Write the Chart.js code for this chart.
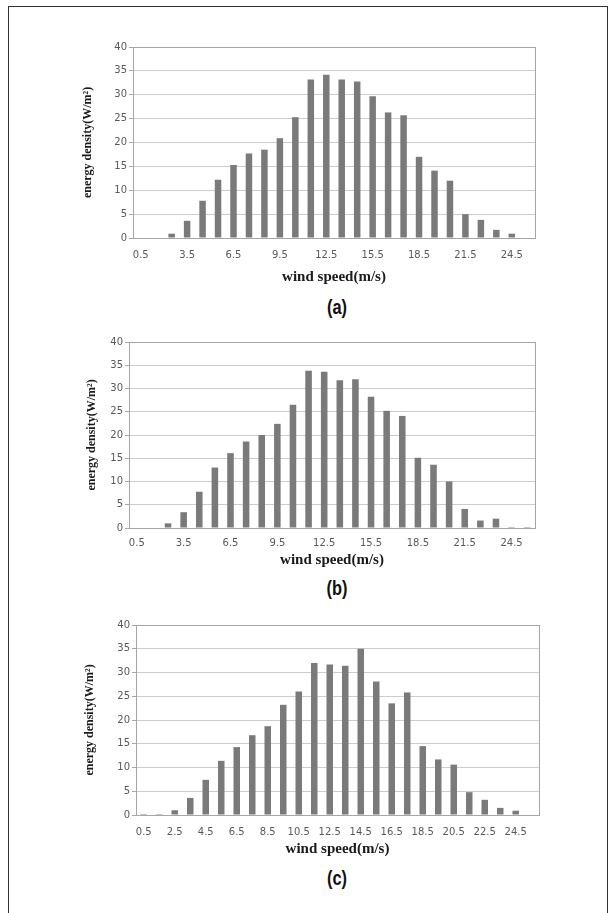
<!DOCTYPE html>
<html>
<head>
<meta charset="utf-8">
<script src="https://cdn.jsdelivr.net/npm/chart.js@4/dist/chart.umd.min.js"></script>
<style>
  body { margin: 0; background: #fff; width: 616px; height: 913px; overflow: hidden; position: relative; }
  #frame { position: absolute; left: 8px; top: 6px; width: 598px; height: 950px; border: 1px solid #333; }
  canvas { position: absolute; left: 0; }
  .cap { position: absolute; width: 100px; height: 24px; line-height: 24px; text-align: center;
         font-family: 'Liberation Sans', Arial, sans-serif; transform: scaleX(0.78);
         font-weight: bold; font-size: 21px; color: #111; }
</style>
</head>
<body>
<div id="frame"></div>
<canvas id="chartA"></canvas>
<canvas id="chartB"></canvas>
<canvas id="chartC"></canvas>
<div class="cap" style="left:287px; top:295px;">(a)</div>
<div class="cap" style="left:287px; top:576px;">(b)</div>
<div class="cap" style="left:287px; top:866px;">(c)</div>

<script>
// wind speed classes (m/s)
var speeds = ['0.5','1.5','2.5','3.5','4.5','5.5','6.5','7.5','8.5','9.5','10.5','11.5','12.5',
              '13.5','14.5','15.5','16.5','17.5','18.5','19.5','20.5','21.5','22.5','23.5','24.5','25.5'];

// energy density (W/m2) per class
var densityA = [0,0,0.9,3.6,7.8,12.2,15.3,17.7,18.5,20.9,25.3,33.2,34.2,33.2,32.8,29.7,26.3,25.7,17.0,14.1,12.0,5.0,3.8,1.7,0.9,0];
var densityB = [0,0,1.0,3.4,7.8,13.0,16.1,18.6,20.0,22.4,26.5,33.8,33.6,31.8,32.0,28.2,25.2,24.1,15.1,13.6,10.0,4.1,1.6,2.0,0.2,0.2];
var densityC = [0.2,0.2,1.0,3.6,7.4,11.4,14.3,16.8,18.7,23.2,26.0,32.0,31.7,31.4,35.0,28.1,23.5,25.8,14.5,11.7,10.6,4.8,3.2,1.5,0.9,0];

var yMin = 0, yMax = 40, yStep = 5;

var plotBorder = {
  id: 'plotBorder',
  beforeDatasetsDraw: function(chart) {
    var a = chart.chartArea;
    var ctx = chart.ctx;
    ctx.save();
    ctx.strokeStyle = '#a6a6a6';
    ctx.lineWidth = 1;
    ctx.strokeRect(Math.round(a.left) + 0.5, Math.round(a.top) + 0.5,
                   Math.round(a.right - a.left), Math.round(a.bottom - a.top));
    ctx.restore();
  }
};

function drawPanel(id, values, step, box) {
  var canvasTop = box.top - 10;
  var yLeft = box.yTitleX - 7.2;
  var xAxisBottom = box.xTitleY + 9;
  var cv = document.getElementById(id);
  cv.style.top = canvasTop + 'px';
  cv.width = 616;
  cv.height = Math.round(xAxisBottom + 2 - canvasTop);
  cv.style.width = '616px';
  cv.style.height = cv.height + 'px';

  new Chart(cv.getContext('2d'), {
    type: 'bar',
    data: {
      labels: speeds,
      datasets: [{
        data: values,
        backgroundColor: '#7a7a7a',
        borderWidth: 0,
        barPercentage: 0.42,
        categoryPercentage: 1
      }]
    },
    options: {
      responsive: false,
      animation: false,
      layout: { padding: { left: yLeft, right: 616 - box.right, top: 10, bottom: 2 } },
      plugins: { legend: { display: false }, tooltip: { enabled: false } },
      scales: {
        x: {
          grid: { display: false, drawTicks: false },
          border: { display: false },
          ticks: {
            autoSkip: false, maxRotation: 0, padding: box.xPad,
            color: '#595959', font: { family: 'DejaVu Sans', size: 10 },
            callback: function(v, i) { return i % step === 0 ? this.getLabelForValue(v) : ''; }
          },
          title: {
            display: true, text: 'wind speed(m/s)', color: '#1a1a1a', padding: 0,
            font: { family: 'Liberation Serif', size: 15, weight: 'bold' }
          },
          afterFit: function(s) { s.height = xAxisBottom - box.bottom; }
        },
        y: {
          min: yMin, max: yMax,
          grid: { color: '#cccccc', tickLength: 4, tickColor: '#a6a6a6' },
          border: { display: false },
          ticks: { stepSize: yStep, padding: 2, color: '#595959', font: { family: 'DejaVu Sans', size: 10 } },
          title: {
            display: true, text: 'energy density(W/m\u00b2)', color: '#1a1a1a', padding: 0,
            font: { family: 'Liberation Serif', size: 12, weight: 'bold' }
          },
          afterFit: function(s) { s.width = box.left - yLeft; }
        }
      }
    },
    plugins: [plotBorder]
  });
}

drawPanel('chartA', densityA, 3, { left: 133, right: 535, top: 47, bottom: 238, xPad: 11, xTitleY: 277, yTitleX: 88 });
drawPanel('chartB', densityB, 3, { left: 129, right: 535, top: 342, bottom: 528, xPad: 9, xTitleY: 560, yTitleX: 92 });
drawPanel('chartC', densityC, 2, { left: 136, right: 539, top: 625, bottom: 815, xPad: 11, xTitleY: 849, yTitleX: 90 });
</script>
</body>
</html>
